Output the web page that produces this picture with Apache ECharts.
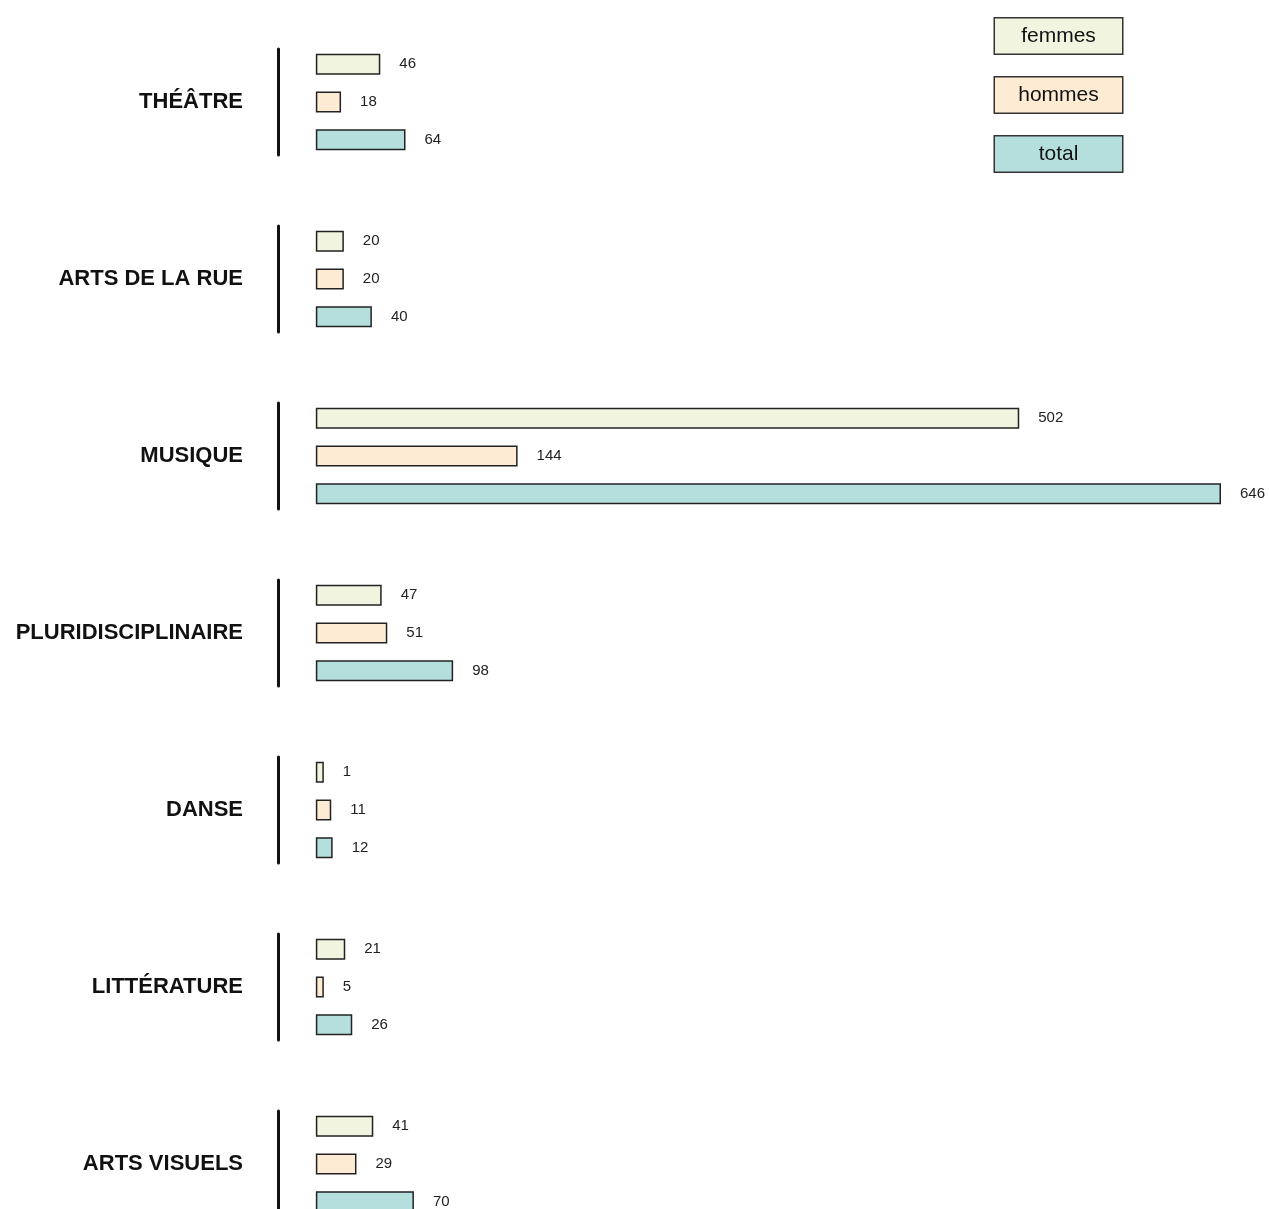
<!DOCTYPE html>
<html>
<head>
<meta charset="utf-8">
<script src="https://cdn.jsdelivr.net/npm/echarts@6/dist/echarts.min.js"></script>
<style>
html,body{margin:0;padding:0;background:#fff;}
#chart{width:1269px;height:1209px;}
</style>
</head>
<body>
<div id="chart"></div>
<script>
// données
const categories = ['THÉÂTRE', 'ARTS DE LA RUE', 'MUSIQUE', 'PLURIDISCIPLINAIRE', 'DANSE', 'LITTÉRATURE', 'ARTS VISUELS']
const seriesNames = ['femmes', 'hommes', 'total']
const femmes = [46, 20, 502, 47, 1, 21, 41]
const hommes = [18, 20, 144, 51, 11, 5, 29]
const total = [64, 40, 646, 98, 12, 26, 70]

const values = [femmes, hommes, total]
const colors = ['#f1f4de', '#fdebd4', '#b5dfdd']
const richKeys = ['f', 'h', 't']
const font = '"Liberation Sans Narrow", "Liberation Sans", Arial, sans-serif'
const maxVal = Math.max(...total)
const minVal = -27 // petit décalage entre l'axe et le début des barres

let chartObj = echarts.init(document.getElementById('chart'))

let grids = [], xAxes = [], yAxes = [], seriesData = []
for (let i = 0; i < categories.length; i++) {
	grids.push({ left: 278, width: 943, top: 49 + 177 * i, height: 106, outerBoundsMode: 'none', containLabel: false })
	xAxes.push({ type: 'value', gridIndex: i, min: minVal, max: maxVal, show: false })
	yAxes.push({
		type: 'category',
		gridIndex: i,
		data: [categories[i]],
		axisLine: { show: true, onZero: false, lineStyle: { color: '#111', width: 3 } },
		axisTick: { show: false },
		axisLabel: {
			margin: 35,
			padding: [6, 0, 0, 0],
			color: '#111',
			fontFamily: font,
			fontWeight: 'bold',
			fontSize: 22
		}
	})
	for (let s = 0; s < seriesNames.length; s++) {
		seriesData.push({
			name: seriesNames[s],
			type: 'bar',
			xAxisIndex: i,
			yAxisIndex: i,
			data: [values[s][i]],
			barWidth: 21,
			barGap: '80%',
			barMinHeight: 8,
			itemStyle: {
				color: colors[s],
				borderColor: '#222',
				borderWidth: 1.5
			},
			label: {
				show: true,
				position: 'right',
				distance: 19,
				color: '#222',
				fontFamily: font,
				fontSize: 15
			},
			emphasis: { disabled: true }
		})
	}
}

let rich = {}
for (let s = 0; s < seriesNames.length; s++) {
	rich[richKeys[s]] = {
		backgroundColor: colors[s],
		borderColor: '#333',
		borderWidth: 1.5,
		width: 127,
		height: 35,
		lineHeight: 35,
		align: 'center',
		color: '#111',
		fontFamily: font,
		fontSize: 21
	}
}

let option = {
	animation: false,
	legend: {
		orient: 'vertical',
		left: 985,
		top: 12,
		icon: 'none',
		itemWidth: 0,
		itemHeight: 0,
		itemGap: 21,
		selectedMode: false,
		data: seriesNames,
		formatter: function (name) {
			return '{' + richKeys[seriesNames.indexOf(name)] + '|' + name + '}'
		},
		textStyle: { rich: rich }
	},
	grid: grids,
	xAxis: xAxes,
	yAxis: yAxes,
	series: seriesData
}
option && chartObj.setOption(option)
</script>
</body>
</html>
